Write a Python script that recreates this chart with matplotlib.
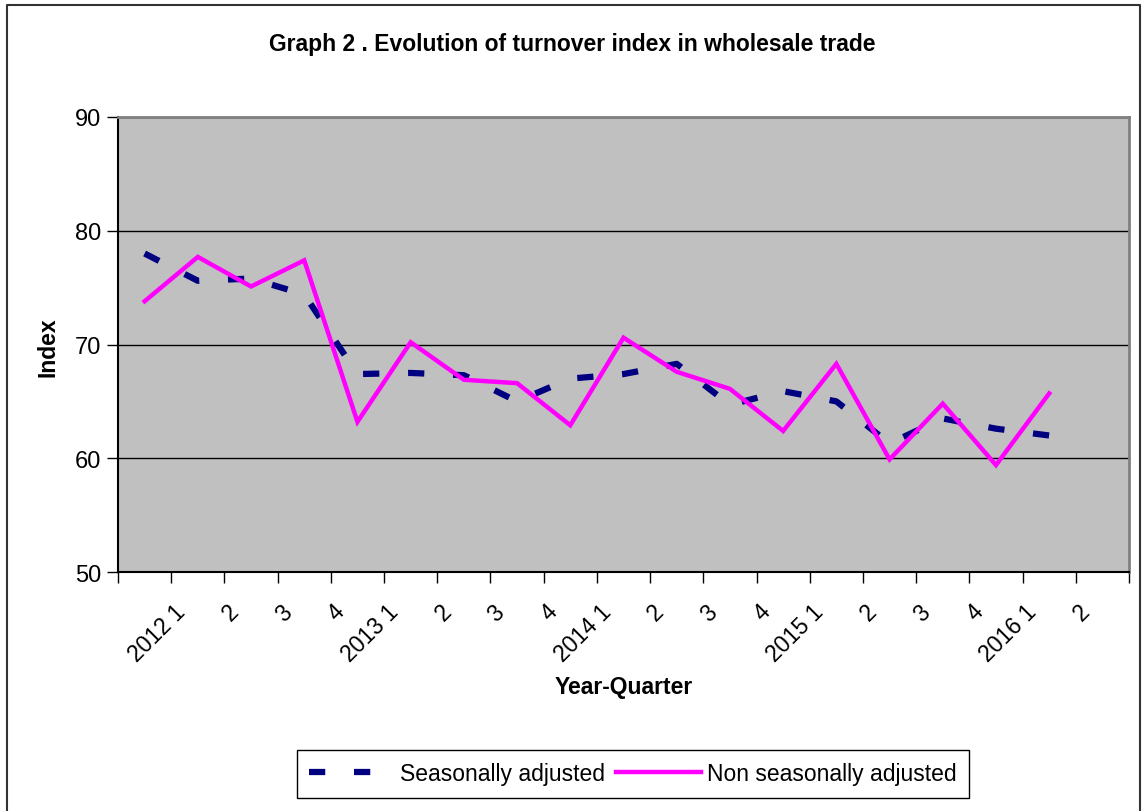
import numpy as np
import matplotlib
matplotlib.use("Agg")
from matplotlib import pyplot as plt
from matplotlib.lines import Line2D
from matplotlib.transforms import ScaledTranslation

plt.rcParams['font.family'] = ['Liberation Sans', 'DejaVu Sans']

# quarters shown on the axis (Excel put them one slot to the right of the data)
quarters = ["2012 1", "2", "3", "4", "2013 1", "2", "3", "4", "2014 1", "2", "3", "4",
            "2015 1", "2", "3", "4", "2016 1", "2"]
seasonally_adj = [78.0, 75.6, 75.8, 74.4, 67.4, 67.5, 67.3, 65.0, 67.0, 67.4, 68.3, 64.7,
                  65.9, 65.0, 61.3, 63.5, 62.6, 62.0]
non_seasonally_adj = [73.8, 77.7, 75.1, 77.4, 63.2, 70.2, 66.9, 66.6, 62.9, 70.6, 67.6, 66.1,
                      62.4, 68.3, 59.9, 64.8, 59.4, 65.7]

fig = plt.figure(figsize=(11.44, 8.12), dpi=100)
ax = fig.add_axes([118/1144, 1 - 573/812, (1129 - 118)/1144, (573 - 118)/812])
ax.set_facecolor('#C0C0C0')

x = np.arange(len(seasonally_adj))
ax.plot(x, seasonally_adj, color='#000080', lw=4.5, linestyle=(0, (2.6, 4.6)),
        dash_capstyle='butt', label='Seasonally adjusted', zorder=3)
ax.plot(x, non_seasonally_adj, color='#FF00FF', lw=3.2, solid_joinstyle='miter',
        label='Non seasonally adjusted', zorder=4)

n_cat = len(quarters) + 1
ax.set_xlim(-0.5, n_cat - 0.5)
ax.set_ylim(50, 90)
ax.set_yticks([50, 60, 70, 80, 90])
ax.yaxis.grid(True, color='black', lw=1)
ax.set_axisbelow(True)

ax.set_xticks(np.arange(1, n_cat), quarters, rotation=45, ha='right', fontsize=16.5)
ax.set_xticks(np.arange(-0.5, n_cat), minor=True)
ax.tick_params(axis='x', which='major', length=0, pad=20)
ax.tick_params(axis='x', which='minor', length=8, width=1, color='black')
ax.tick_params(axis='y', length=8, width=1, labelsize=17, pad=4)
shift = ScaledTranslation(-0.08, 0, fig.dpi_scale_trans)
for lab in ax.get_xticklabels():
    lab.set_transform(lab.get_transform() + shift)

for s in ['left', 'bottom']:
    ax.spines[s].set_color('black')
    ax.spines[s].set_linewidth(1.5)
for s in ['top', 'right']:
    ax.spines[s].set_color('#808080')
    ax.spines[s].set_linewidth(2)

fig.text(0.5, 1 - 44/812, "Graph 2 . Evolution of turnover index in wholesale trade",
         ha='center', va='center', fontsize=16.5, fontweight='bold')
fig.text(624/1144, 1 - 688/812, "Year-Quarter", ha='center', va='center',
         fontsize=16.5, fontweight='bold')
fig.text(48/1144, 1 - 347/812, "Index", ha='center', va='center', rotation=90,
         fontsize=16.5, fontweight='bold')

leg = fig.legend(loc='center', bbox_to_anchor=(633/1144, 1 - 775/812), ncol=2,
                 fontsize=16.5, frameon=True, fancybox=False, framealpha=1,
                 edgecolor='black', handlelength=3.7, handletextpad=0.25,
                 columnspacing=0.5, borderpad=0.55, borderaxespad=0)
leg.get_frame().set_linewidth(1)

# outer chart border
fig.add_artist(Line2D([7/1144, 7/1144, 1140/1144, 1140/1144], [0, 1 - 6/812, 1 - 6/812, 0],
                      color='#333333', lw=1.5))

fig.savefig('out.png', dpi=100)
